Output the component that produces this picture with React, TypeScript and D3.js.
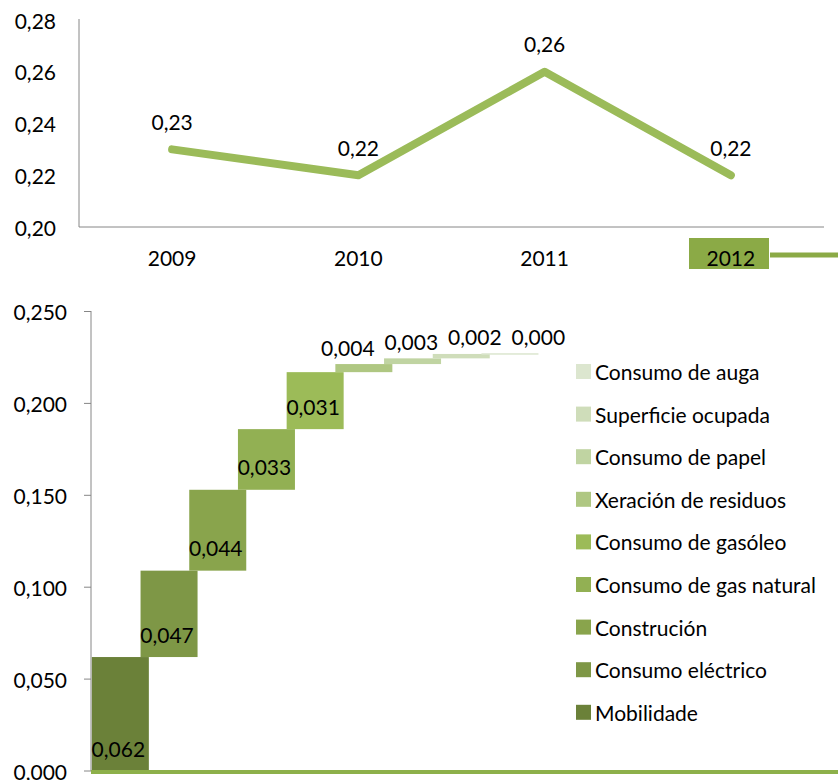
import React from "react";
import * as d3 from "d3";

const years = ["2009", "2010", "2011", "2012"];
const totals = [0.23, 0.22, 0.26, 0.22];
const topTicks = [0.2, 0.22, 0.24, 0.26, 0.28];

const categories = [
  "Mobilidade",
  "Consumo eléctrico",
  "Construción",
  "Consumo de gas natural",
  "Consumo de gasóleo",
  "Xeración de residuos",
  "Consumo de papel",
  "Superficie ocupada",
  "Consumo de auga",
];
const contributions = [0.062, 0.047, 0.044, 0.033, 0.031, 0.0044, 0.0031, 0.0024, 0.0004];
const colors = [
  "#6B8139",
  "#7E9746",
  "#89A44C",
  "#92B053",
  "#9CBB58",
  "#AFC782",
  "#C0D4A2",
  "#CFDDBA",
  "#DCE6CF",
];
const bottomTicks = [0, 0.05, 0.1, 0.15, 0.2, 0.25];

const FONT = "Lato, 'Open Sans', sans-serif";
const FS = 21;
const fmt2 = (v: number) => v.toFixed(2).replace(".", ",");
const fmt3 = (v: number) => v.toFixed(3).replace(".", ",");

export default function App() {
  // Top line chart
  const xTop = d3.scaleBand<string>().domain(years).range([79, 824]);
  const yTop = d3.scaleLinear().domain([0.2, 0.28]).range([227, 20]);
  const line = d3
    .line<number>()
    .x((_, i) => (xTop(years[i]) as number) + xTop.bandwidth() / 2)
    .y((d) => yTop(d));

  // Bottom waterfall chart
  const xB = d3
    .scaleBand<string>()
    .domain(categories)
    .range([96, 96 + 9 * 48.7]);
  const yB = d3.scaleLinear().domain([0, 0.25]).range([771, 311.5]);
  const barW = 57;
  const cum: number[] = [];
  contributions.reduce((acc, v, i) => {
    cum[i] = acc;
    return acc + v;
  }, 0);
  const firstSmall = contributions.findIndex((c) => c <= 0.01);

  const legendOrder = categories.map((c, i) => i).reverse();

  return (
    <svg
      width={838}
      height={780}
      style={{ position: "absolute", left: 0, top: 0, background: "#fff" }}
      fontFamily={FONT}
    >
      {/* TOP CHART */}
      <line x1={79} x2={79} y1={19} y2={227} stroke="#868686" strokeWidth={1} />
      <line x1={79} x2={824} y1={227} y2={227} stroke="#868686" strokeWidth={1} />
      {topTicks.map((t) => (
        <text
          key={t}
          x={56}
          y={yTop(t)}
          textAnchor="end"
          dominantBaseline="central"
          fontSize={FS}
          fill="#000"
        >
          {fmt2(t)}
        </text>
      ))}
      <rect x={689} y={238} width={80} height={31} fill="#8BAA46" />
      <line x1={770} x2={838} y1={255} y2={255} stroke="#8BAA46" strokeWidth={5} />
      {years.map((y) => (
        <text
          key={y}
          x={(xTop(y) as number) + xTop.bandwidth() / 2}
          y={257}
          textAnchor="middle"
          dominantBaseline="central"
          fontSize={FS}
          fill="#000"
        >
          {y}
        </text>
      ))}
      <path
        d={line(totals) || ""}
        fill="none"
        stroke="#9BBB59"
        strokeWidth={8}
        strokeLinecap="round"
        strokeLinejoin="round"
      />
      {totals.map((v, i) => (
        <text
          key={i}
          x={(xTop(years[i]) as number) + xTop.bandwidth() / 2}
          y={yTop(v) - 28}
          textAnchor="middle"
          dominantBaseline="central"
          fontSize={FS}
          fill="#000"
        >
          {fmt2(v)}
        </text>
      ))}

      {/* BOTTOM CHART */}
      <line x1={91} x2={91} y1={311} y2={771} stroke="#868686" strokeWidth={1} />
      {bottomTicks.map((t) => (
        <g key={t}>
          <line x1={84} x2={91} y1={yB(t)} y2={yB(t)} stroke="#868686" strokeWidth={1} />
          <text
            x={67}
            y={yB(t)}
            textAnchor="end"
            dominantBaseline="central"
            fontSize={FS}
            fill="#000"
          >
            {fmt3(t)}
          </text>
        </g>
      ))}
      {contributions.map((v, i) => {
        const cx = (xB(categories[i]) as number) + xB.bandwidth() / 2;
        const y0 = yB(cum[i]);
        const y1 = yB(cum[i] + v);
        return (
          <rect
            key={i}
            x={cx - barW / 2}
            y={y1}
            width={barW}
            height={Math.max(1.5, y0 - y1)}
            fill={colors[i]}
          />
        );
      })}
      <rect x={91} y={770} width={747} height={4} fill="#8DB04A" />
      {contributions.map((v, i) => {
        const cx = (xB(categories[i]) as number) + xB.bandwidth() / 2;
        const big = i < firstSmall;
        const x = big
          ? cx - 2
          : (xB(categories[firstSmall]) as number) + xB.bandwidth() / 2 - 16 + (i - firstSmall) * 63.5;
        const y = big ? yB(cum[i]) - 23 : yB(cum[i] + v) - 17;
        return (
          <text
            key={i}
            x={x}
            y={y}
            textAnchor="middle"
            dominantBaseline="central"
            fontSize={FS}
            fill="#000"
          >
            {fmt3(v)}
          </text>
        );
      })}

      {/* LEGEND */}
      {legendOrder.map((ci, k) => {
        const cy = 371.5 + k * 42.6;
        return (
          <g key={ci}>
            <rect x={576} y={cy - 7.5} width={15} height={15} fill={colors[ci]} />
            <text
              x={595}
              y={cy}
              dominantBaseline="central"
              fontSize={FS}
              fill="#000"
            >
              {categories[ci]}
            </text>
          </g>
        );
      })}
    </svg>
  );
}
